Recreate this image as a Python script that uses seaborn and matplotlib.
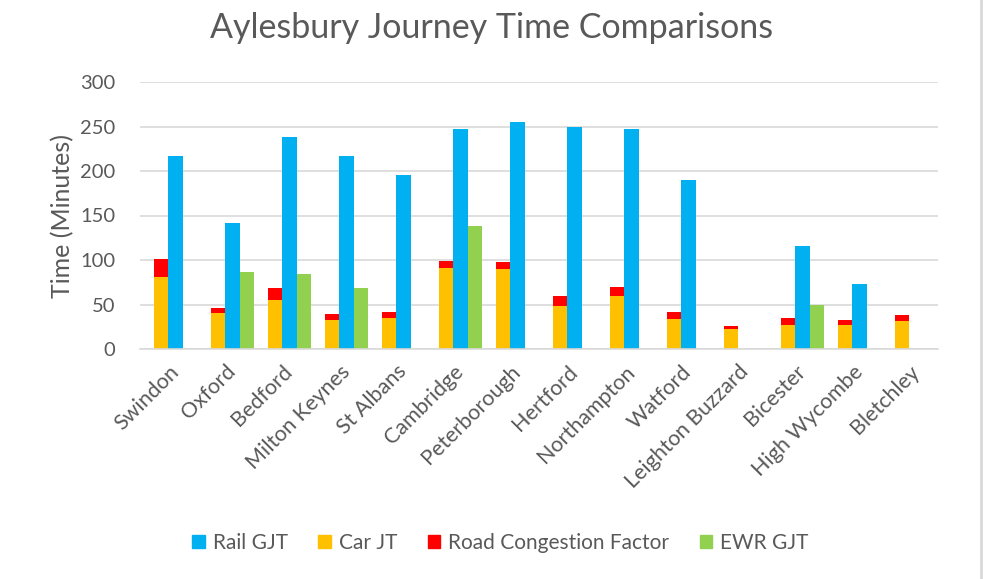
import matplotlib
matplotlib.use("Agg")
import matplotlib.pyplot as plt
from matplotlib.patches import Patch
from matplotlib.lines import Line2D
import seaborn as sns
import pandas as pd
import numpy as np

# values (minutes)
cities = ["Swindon", "Oxford", "Bedford", "Milton Keynes", "St Albans", "Cambridge",
          "Peterborough", "Hertford", "Northampton", "Watford", "Leighton Buzzard",
          "Bicester", "High Wycombe", "Bletchley"]
rail_gjt = [217, 142, 238, 217, 195, 247, 255, 249, 247, 190, np.nan, 116, 73, np.nan]
car_jt = [81, 40, 55, 33, 35, 91, 90, 48, 60, 34, 22, 27, 27, 31]
congestion = [20, 6, 13, 6, 7, 8, 8, 12, 10, 8, 4, 8, 6, 7]
ewr_gjt = [np.nan, 86, 84, 69, np.nan, 138, np.nan, np.nan, np.nan, np.nan, np.nan, 49, np.nan, np.nan]

BLUE = "#00B0F0"
YELLOW = "#FFC000"
RED = "#FF0000"
GREEN = "#92D050"
GREY = "#595959"

sns.set_theme(style="white")
plt.rcParams["font.family"] = ["Lato", "DejaVu Sans"]

car_total = [c + g for c, g in zip(car_jt, congestion)]
slots = ["blank", "car", "rail", "ewr"]

top = pd.DataFrame({
    "city": cities * 3,
    "slot": ["car"] * 14 + ["rail"] * 14 + ["ewr"] * 14,
    "value": car_total + rail_gjt + ewr_gjt,
}).dropna()
base = pd.DataFrame({"city": cities, "slot": "car", "value": car_jt})

fig = plt.figure(figsize=(9.95, 5.79), dpi=100)
ax = fig.add_axes([140 / 995, 1 - 349 / 579, 798 / 995, 267 / 579])

# red = car + congestion, drawn first; yellow car JT on top of it
sns.barplot(data=top, x="city", y="value", hue="slot", hue_order=slots, order=cities,
            palette={"blank": "white", "car": RED, "rail": BLUE, "ewr": GREEN},
            width=1.0, gap=0, dodge=True, errorbar=None, saturation=1, linewidth=0,
            legend=False, ax=ax)
sns.barplot(data=base, x="city", y="value", hue="slot", hue_order=slots, order=cities,
            palette={"blank": "white", "car": YELLOW, "rail": BLUE, "ewr": GREEN},
            width=1.0, gap=0, dodge=True, errorbar=None, saturation=1, linewidth=0,
            legend=False, ax=ax)

ax.set_xlim(-0.5, 13.5)
ax.set_ylim(0, 300)
ax.set_yticks(range(0, 301, 50))
ax.yaxis.grid(True, color="#D9D9D9", linewidth=1.2)
ax.set_axisbelow(True)
for s in ["top", "right", "left"]:
    ax.spines[s].set_visible(False)
ax.spines["bottom"].set_color("#D9D9D9")
ax.spines["bottom"].set_linewidth(1.2)
ax.tick_params(axis="both", length=0, colors=GREY)
ax.tick_params(axis="y", pad=18, labelsize=14.5)
ax.tick_params(axis="x", pad=9)
ax.set_xticks(range(len(cities)))
ax.set_xticklabels(cities, rotation=45, ha="right", rotation_mode="anchor", fontsize=15.5)
ax.set_xlabel("")
ax.set_ylabel("Time (Minutes)", fontsize=18, color=GREY, labelpad=4)

fig.text(0.494, 0.952, "Aylesbury Journey Time Comparisons", ha="center", va="center",
         fontsize=24.5, color=GREY)

handles = [Patch(color=BLUE), Patch(color=YELLOW), Patch(color=RED), Patch(color=GREEN)]
labels = ["Rail GJT", "Car JT", "Road Congestion Factor", "EWR GJT"]
leg = fig.legend(handles, labels, loc="center", bbox_to_anchor=(0.503, 1 - 543 / 579),
                 ncol=4, frameon=False, fontsize=15, handlelength=0.6, handleheight=0.6,
                 handletextpad=0.4, columnspacing=1.45)
for t in leg.get_texts():
    t.set_color(GREY)

# chart frame border on the right
fig.add_artist(Line2D([981 / 995, 981 / 995], [0, 1], color="#D9D9D9", linewidth=2))

fig.savefig("out.png", dpi=100)
